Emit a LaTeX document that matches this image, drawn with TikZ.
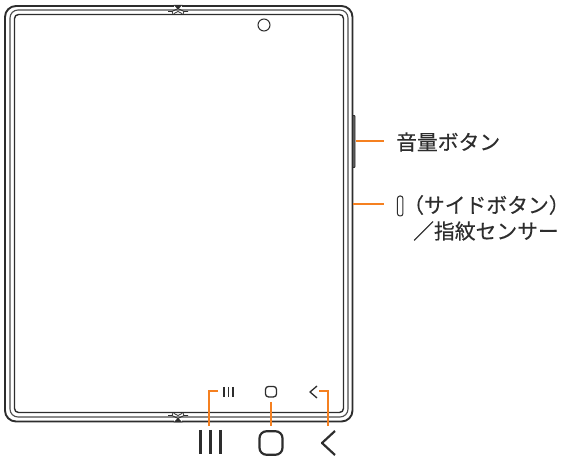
\documentclass[tikz,border=0pt]{standalone}
\usepackage{fontspec}
\setmainfont{Noto Sans CJK JP}[FakeBold=0.4]
\definecolor{leadc}{RGB}{245,128,32}
\definecolor{inkc}{RGB}{45,45,45}
\tikzset{
  bodyline/.style={draw=inkc,line width=1.4pt},
  midline/.style={draw=inkc!85,line width=1.1pt},
  leader/.style={draw=leadc,line width=2.8pt},
  keyline/.style={draw=inkc,line width=1.3pt,line join=round},
  bigkey/.style={draw=inkc,line width=2.2pt,line join=round},
  lbl/.style={inner sep=0pt,anchor=west,text=inkc,font=\fontsize{20.8}{24}\selectfont},
}
\begin{document}
\begin{tikzpicture}[x=1pt,y=-1pt]
\useasboundingbox (0,0) rectangle (563,457);
% body
\draw[bodyline,line width=1.9pt,rounded corners=11pt] (5,6) rectangle (352.5,421.5);
\draw[midline,rounded corners=8pt] (10,10) rectangle (348,417);
\draw[bodyline,rounded corners=4pt] (14.5,14.5) rectangle (343.5,412.5);
% hinges
\draw[draw=white,line width=2pt] (174,6)--(182,6) (174,421.5)--(182,421.5);
\draw[inkc,line width=.8pt] (168,11.5) -- (172,11.5) -- (173,14) (188,11.5) -- (184,11.5) -- (183,14) (172,11.5)--(178,8.5)--(184,11.5) (174,13.5)--(178,11.5)--(182,13.5);
\fill[inkc] (173.5,5) -- (182.5,5) -- (178,9.5) -- cycle;
\draw[inkc,line width=.8pt] (168,415.5) -- (172,415.5) -- (173,413) (188,415.5) -- (184,415.5) -- (183,413) (172,415.5)--(178,418.5)--(184,415.5) (174,413.5)--(178,415.5)--(182,413.5);
\fill[inkc] (173.5,422.4) -- (182.5,422.4) -- (178,418) -- cycle;
% camera
\node[draw=inkc,line width=1pt,circle,minimum size=12pt,inner sep=0pt] (cam) at (264,25) {};
% volume button
\node[draw=inkc,fill=inkc!75,line width=.8pt,rounded corners=.8pt,minimum width=2.4pt,minimum height=52pt,inner sep=0pt] (vol) at (353.8,141.5) {};
% leaders
\coordinate (volend) at (384,141);
\coordinate (sideb) at (353,204);
\coordinate (sideend) at (384,204);
\draw[leader] (355.5,141) -- (volend);
\draw[leader] (sideb) -- (sideend);
% labels
\node[lbl] (l1) at (396,142) {音量ボタン};
\node[draw=inkc,line width=1pt,rounded corners=2.5pt,minimum width=5.5pt,minimum height=20pt,inner sep=0pt] (sidekey) at (400.2,206) {};
\node[lbl] (l2) at (403,205) {（サイドボタン）};
\node[lbl] (l3) at (413,231) {／指紋センサー};
% small keys
\draw[keyline] (224,387)--(224,397) (228.5,387)--(228.5,397) (233,387)--(233,397);
\node[draw=inkc,line width=1.3pt,rounded corners=3pt,minimum width=11pt,minimum height=10.5pt,inner sep=0pt] (home) at (271,391.7) {};
\draw[keyline] (317,386)--(310,392)--(317,398);
% big keys
\draw[bigkey] (200.5,430)--(200.5,454) (210.5,430)--(210.5,454) (220.5,430)--(220.5,454);
\node[draw=inkc,line width=2.2pt,rounded corners=7pt,minimum width=23pt,minimum height=23.5pt,inner sep=0pt] (bighome) at (271,443) {};
\draw[bigkey] (335,431)--(322,443)--(335,455);
% key leaders
\coordinate (homelead) at (271,402);
\draw[leader] (218,391)--(209,391)--(209,426);
\draw[leader] (homelead)--(271,426);
\draw[leader] (319,391)--(328,391)--(328,426);
\end{tikzpicture}
\end{document}
